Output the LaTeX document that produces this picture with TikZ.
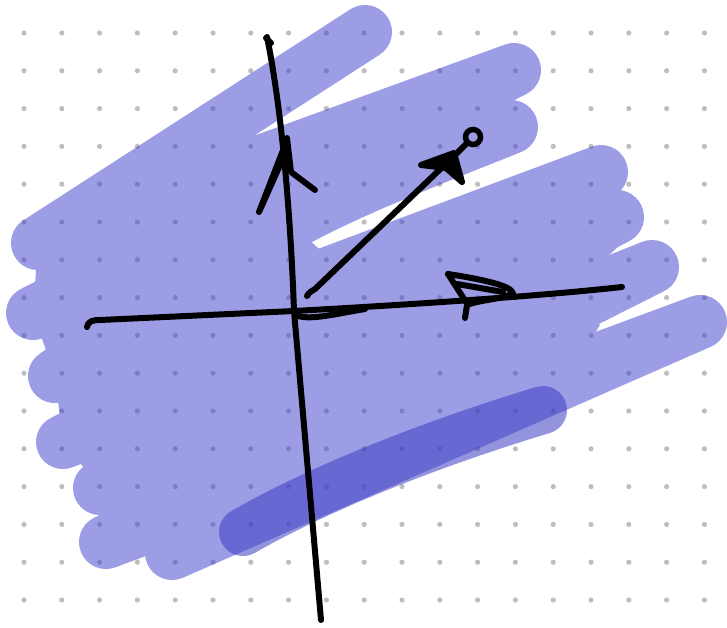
\documentclass[tikz,border=0pt]{standalone}
\begin{document}
\begin{tikzpicture}[x=1pt,y=-1pt,
  ink/.style={line width=6pt,line cap=round,line join=round,draw=black},
  scribble/.style={line width=54pt,line cap=round,line join=round,draw={rgb,255:red,61;green,61;blue,205}},
  scribblefill/.style={fill={rgb,255:red,61;green,61;blue,205}},
  strongmark/.style={line width=48pt,line cap=round,draw={rgb,255:red,61;green,61;blue,195},draw opacity=0.55},
  griddot/.style={fill={rgb,255:red,190;green,190;blue,190}}]
\useasboundingbox (0,0) rectangle (727,627);
\fill[white] (0,0) rectangle (727,627);
% dot grid
\foreach \i in {0,...,18}{
  \foreach \j in {0,...,15}{
    \fill[griddot] ({24+37.8*\i},{33+37.8*\j}) circle (2.6pt);
  }
}
% scribble
\begin{scope}[transparency group,opacity=0.5]
\draw[scribble] (365,32) -- (38,243) -- (514,70) -- (33,313) -- (511,127) .. controls (290,215) .. (55,376) -- (601,172) -- (63,442) -- (617,217) -- (100,488) -- (652,267) -- (106,542) -- (700,322) -- (172,553);
\fill[scribblefill] (38,243) -- (33,313) -- (55,376) -- (63,442) -- (100,488) -- (106,542) -- (172,553) -- (560,390) -- (600,325) -- (560,300) -- (620,245) -- (580,200) -- (450,228) -- (330,258) -- (262,200) -- (240,142) -- (150,185) -- cycle;
\end{scope}
\draw[strongmark] (243,532) .. controls (330,482) and (450,438) .. (543,410);
% vertical axis
\coordinate (vtop) at (267,37);
\coordinate (origin) at (294,311);
\coordinate (vbot) at (321,620);
\draw[ink] (vtop) .. controls (280,100) and (290,200) .. (origin) -- (vbot);
\draw[ink] (266,38) -- (271,43);
\draw[ink] (287,140) -- (259,212) -- (280,165);
\draw[ink] (287,138) -- (291,172) -- (315,190);
% horizontal axis
\coordinate (hleft) at (87,327);
\coordinate (hright) at (622,287);
\draw[ink] (hleft) .. controls (88,321) and (93,320) .. (100,320) -- (origin) .. controls (420,304) and (540,296) .. (hright);
\draw[ink] (298,316) .. controls (312,320) and (335,314) .. (365,309);
\draw[ink] (448,274) .. controls (480,279) and (510,285) .. (513,293) .. controls (505,299) and (478,300) .. (467,305) -- (465,318);
\draw[ink] (448,274) -- (466,302);
\draw[ink] (457,284) -- (503,292);
% diagonal arrow
\coordinate (dstart) at (307,296);
\coordinate (dtip) at (455,155);
\draw[ink] (dstart) .. controls (309,292) and (312,291) .. (315,289) -- (dtip) -- (466,144);
\draw[ink,fill=black] (421,165) -- (454,153) -- (462,182) -- (446,168) -- cycle;
\draw[line width=5.5pt,draw=black] (473,137) circle (7.5pt);
\end{tikzpicture}
\end{document}
